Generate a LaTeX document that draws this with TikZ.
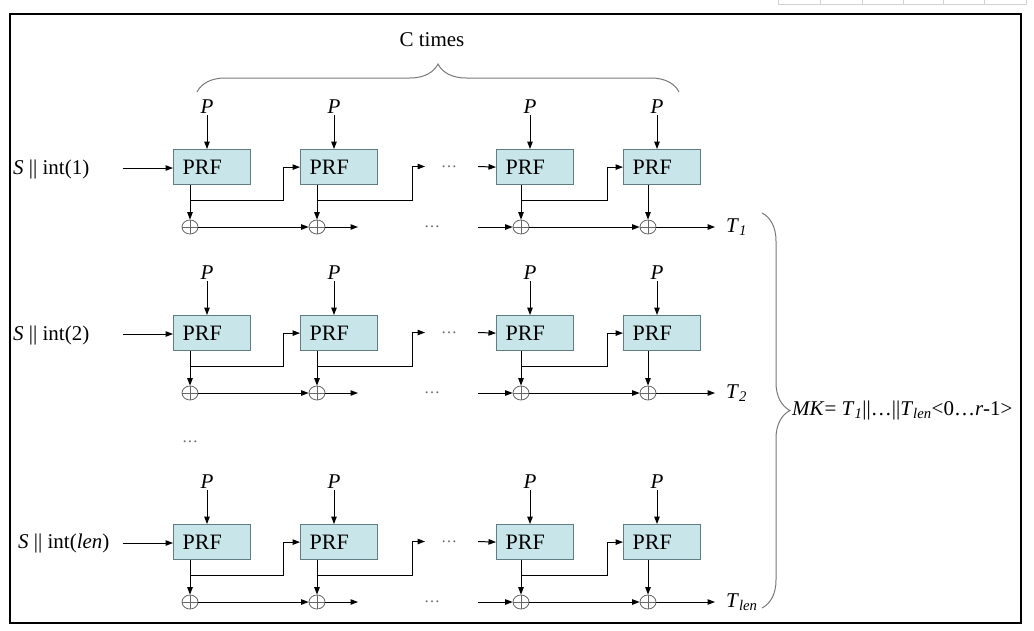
\documentclass[tikz,border=0pt]{standalone}
\usepackage{fontspec}
\setmainfont{Liberation Serif}
\usetikzlibrary{arrows.meta,decorations.pathreplacing,shapes.geometric,calc}
\definecolor{prffill}{RGB}{200,230,233}
\definecolor{prfdraw}{RGB}{95,125,130}
\definecolor{bracegray}{RGB}{120,120,120}
\definecolor{gridgray}{RGB}{210,210,210}
\begin{document}
\begin{tikzpicture}[x=1pt,y=-1pt,
  prfbox/.style={draw=prfdraw, line width=1.2pt, fill=prffill, minimum height=35pt,
    text width=59pt, inner xsep=9pt, inner ysep=0pt, align=left,
    font=\fontsize{22}{24}\selectfont, anchor=north west},
  plab/.style={font=\fontsize{21}{23}\selectfont\itshape, inner sep=1pt},
  xorn/.style={ellipse, draw=black!60, line width=0.8pt, minimum width=16pt,
    minimum height=14pt, inner sep=0pt,
    path picture={\draw[black!60,line width=0.8pt]
      (path picture bounding box.north) -- (path picture bounding box.south)
      (path picture bounding box.west) -- (path picture bounding box.east);}},
  conn/.style={line width=1pt, -{Triangle[length=7.5pt,width=5.5pt]}},
  txt/.style={font=\fontsize{21}{23}\selectfont, inner sep=0pt},
  dotsn/.style={font=\fontsize{16}{18}\selectfont, text=black!60, inner sep=0pt},
  bracen/.style={draw=bracegray, line width=1pt, decorate}
]
\useasboundingbox (0,0) rectangle (1034,630);
% table fragment at top
\draw[gridgray, line width=1pt] (778,-2) -- (778,4) -- (1026,4) -- (1026,-2);
\foreach \gx in {820,862,903,943,984}{\draw[gridgray, line width=1pt] (\gx,-2) -- (\gx,4);}
% frame
\draw[line width=2pt] (10,14) rectangle (1021,623);

\foreach \r/\Y in {1/0,2/166,3/375}{
  \foreach \c/\L/\o in {1/173/17,2/300/17,3/496/25,4/623/25}{
    \node[prfbox] (b\r\c) at (\L,149+\Y) {PRF};
    \node[plab] (p\r\c) at (\L+34,107+\Y) {P};
    \node[xorn] (x\r\c) at (\L+\o,227+\Y) {};
    \draw[conn] (p\r\c) -- (p\r\c |- b\r\c.north);
    \draw[conn] (b\r\c.south -| x\r\c) -- (x\r\c.north);
  }
  % input arrow
  \coordinate (a\r) at (123,168+\Y);
  \draw[conn] (a\r) -- (a\r -| b\r1.west);
  % chaining branches
  \draw[conn] (b\r1.south -| x\r1) ++(0,15) -- ++(93,0) |- (b\r2.west);
  \coordinate (u\r) at (425,166.5+\Y);
  \draw[conn] (b\r2.south -| x\r2) ++(0,15) -- ++(95,0) |- (u\r);
  \node[dotsn] (ud\r) at (449,166.5+\Y) {…};
  \coordinate (v\r) at (478,166.5+\Y);
  \draw[conn] (v\r) -- (b\r3.west);
  \draw[conn] (b\r3.south -| x\r3) ++(0,15) -- ++(86,0) |- (b\r4.west);
  % xor chain
  \draw[conn] (x\r1) -- (x\r2);
  \coordinate (e\r) at (358,227+\Y);
  \draw[conn] (x\r2) -- (e\r);
  \node[dotsn] (xd\r) at (432,227+\Y) {…};
  \coordinate (s\r) at (478,227+\Y);
  \draw[conn] (s\r) -- (x\r3);
  \draw[conn] (x\r3) -- (x\r4);
}
% outputs
\node[txt, anchor=west, inner xsep=11pt] (t1) at (715,227) {\textit{T}\textsubscript{\textit{1}}};
\node[txt, anchor=west, inner xsep=11pt] (t2) at (715,393) {\textit{T}\textsubscript{\textit{2}}};
\node[txt, anchor=west, inner xsep=11pt] (t3) at (715,602) {\textit{T}\textsubscript{\textit{len}}};
\draw[conn] (x14) -- (t1.west);
\draw[conn] (x24) -- (t2.west);
\draw[conn] (x34) -- (t3.west);
% inputs
\node[txt, anchor=west] (in1) at (13,169) {\textit{S} || int(1)};
\node[txt, anchor=west] (in2) at (13,335) {\textit{S} || int(2)};
\node[txt, anchor=west] (in3) at (18,543) {\textit{S} || int(\textit{len})};
% middle dots
\node[dotsn] (md) at (190,442) {…};
% top brace
\draw[bracen, decoration={brace, amplitude=28pt}] (197,92) -- (679,92);
\node[txt] (ct) at (432,40) {C times};
% right brace
\draw[bracen, decoration={brace, amplitude=28pt}] (762,213) -- (762,608);
\node[txt, anchor=west, font=\fontsize{21}{23}\selectfont] (mk) at (792,410) {\textit{MK}= \textit{T}\textsubscript{\textit{1}}||…||\textit{T}\textsubscript{\textit{len}}<0…\textit{r}-1>};
\end{tikzpicture}
\end{document}
